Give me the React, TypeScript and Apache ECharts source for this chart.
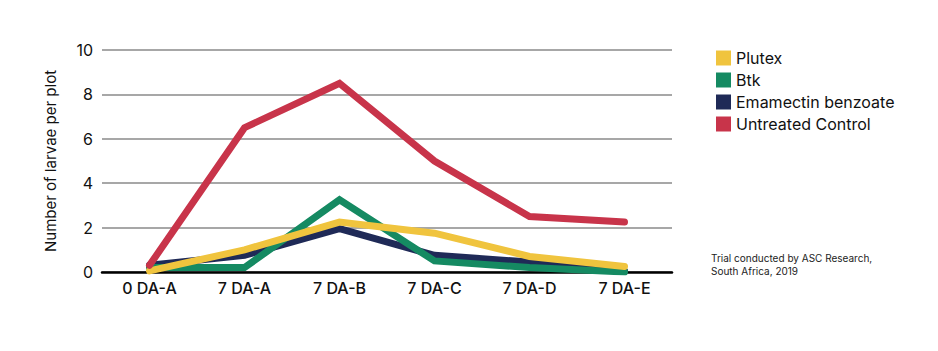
import React, { useEffect, useRef } from "react";
import * as echarts from "echarts";

const categories = ["0 DA-A", "7 DA-A", "7 DA-B", "7 DA-C", "7 DA-D", "7 DA-E"];
const plutex = [0.05, 1.0, 2.25, 1.75, 0.7, 0.25];
const btk = [0.2, 0.2, 3.25, 0.5, 0.2, 0.0];
const emamectin = [0.3, 0.75, 1.95, 0.75, 0.45, 0.05];
const untreated = [0.3, 6.5, 8.5, 5.0, 2.5, 2.25];
const legendNames = ["Plutex", "Btk", "Emamectin benzoate", "Untreated Control"];
const footnote = ["Trial conducted by ASC Research,", "South Africa, 2019"];

const FONT = "Inter, 'Liberation Sans', Arial, sans-serif";

export default function App() {
  const ref = useRef<HTMLDivElement>(null);
  useEffect(() => {
    if (!ref.current) return;
    const chart = echarts.init(ref.current, undefined, { renderer: "svg" });
    const line = (name: string, data: number[], color: string) => ({
      name,
      type: "line",
      data,
      symbol: "none",
      lineStyle: { color, width: 7, cap: "round", join: "miter" },
      itemStyle: { color },
    });
    chart.setOption({
      animation: false,
      textStyle: { fontFamily: FONT },
      grid: { left: 102, right: 266, top: 50, bottom: 79 },
      legend: {
        data: legendNames,
        orient: "vertical",
        left: 711,
        top: 45,
        icon: "rect",
        itemWidth: 15,
        itemHeight: 15,
        itemGap: 6,
        textStyle: { fontSize: 16, color: "#111", fontFamily: FONT },
      },
      xAxis: {
        type: "category",
        data: categories,
        boundaryGap: true,
        axisLine: { lineStyle: { color: "#000", width: 2.5 } },
        axisTick: { show: false },
        axisLabel: { fontSize: 16, fontWeight: 500, color: "#111", margin: 8, fontFamily: FONT },
      },
      yAxis: {
        type: "value",
        min: 0,
        max: 10,
        interval: 2,
        name: "Number of larvae per plot",
        nameLocation: "middle",
        nameGap: 44,
        nameTextStyle: { fontSize: 15, color: "#111", fontFamily: FONT },
        axisLine: { show: false },
        axisTick: { show: false },
        axisLabel: { fontSize: 16, color: "#111", margin: 9, fontFamily: FONT },
        splitLine: { lineStyle: { color: "#8a8a8a", width: 1.5 } },
      },
      graphic: [
        {
          type: "text",
          left: 711,
          top: 252,
          style: {
            text: footnote.join("\n"),
            fontSize: 10,
            lineHeight: 12.5,
            fill: "#222",
            fontFamily: FONT,
          },
        },
      ],
      series: [
        line("Emamectin benzoate", emamectin, "#1f2a57"),
        line("Btk", btk, "#158a62"),
        line("Plutex", plutex, "#f0c43e"),
        line("Untreated Control", untreated, "#c8344a"),
      ],
    });
    return () => chart.dispose();
  }, []);
  return (
    <div
      ref={ref}
      style={{ position: "fixed", left: 0, top: 0, width: 938, height: 351, background: "#fff" }}
    />
  );
}
